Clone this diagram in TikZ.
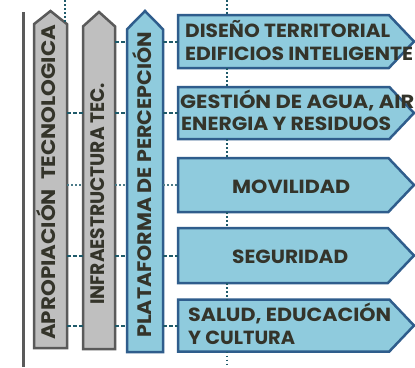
\documentclass[tikz,border=0pt]{standalone}
\usepackage{graphicx}
\usepackage{fontspec}
\setmainfont{Poppins}
\usetikzlibrary{shapes.arrows}
\definecolor{bluefill}{HTML}{8FCBDD}
\definecolor{blueline}{HTML}{2F5D8C}
\definecolor{grayfill}{HTML}{BFBFBF}
\definecolor{grayline}{HTML}{5A5A5A}
\definecolor{conn}{HTML}{1F5A6A}
\definecolor{txt}{HTML}{34342A}
\newcommand{\fitw}[2]{\resizebox{#1}{\height}{#2}}
\begin{document}
\begin{tikzpicture}[x=1pt,y=-1pt,
 pillar/.style={single arrow, single arrow head extend=0pt, rotate=90, inner sep=0pt, outer sep=0pt, minimum width=33pt, minimum height=337pt, anchor=tail, line width=2.5pt},
 graypillar/.style={pillar, draw=grayline, fill=grayfill},
 bluepillar/.style={pillar, draw=blueline, fill=bluefill},
 area/.style={single arrow, single arrow head extend=0pt, single arrow tip angle=93, inner sep=0pt, outer sep=0pt, minimum width=53pt, minimum height=236pt, anchor=tail, draw=blueline, fill=bluefill, line width=2.5pt},
 vlabel/.style={rotate=90, anchor=base west, text=txt, font=\bfseries\fontsize{19.5}{19.5}\selectfont, inner sep=0pt},
 hlabel/.style={anchor=base west, text=txt, font=\bfseries\fontsize{19}{19}\selectfont, inner sep=0pt},
 link/.style={draw=conn, line width=2pt, dash pattern=on 4pt off 2pt},
 dotlink/.style={draw=conn!80, line width=2pt, dash pattern=on 1.5pt off 2.5pt},
 vdot/.style={draw=conn, line width=2pt, dash pattern=on 1.5pt off 2.5pt}
]
\useasboundingbox (0,0) rectangle (415,367);
\clip (0,0) rectangle (415,367);
\fill[white] (0,0) rectangle (415,367);

% left rule
\coordinate (L1) at (23,12);
\coordinate (L2) at (23,367);
\draw[line width=3pt, draw=grayline] (L1) -- (L2);

% pillars
\node[graypillar, single arrow tip angle=103] (a1) at (50.5,348) {};
\node[graypillar, single arrow tip angle=96, minimum width=32pt] (a2) at (99,349) {};
\node[bluepillar, single arrow tip angle=89, minimum width=36pt, minimum height=341pt] (a3) at (145,352) {};

\node[vlabel] (t1) at (55.5,340) {\fitw{315pt}{APROPIACIÓN\ \ TECNOLOGICA}};
\node[vlabel] (t2) at (104,305) {\fitw{222pt}{INFRAESTRUCTURA TEC.}};
\node[vlabel] (t3) at (151.5,338) {\fitw{306pt}{PLATAFORMA DE PERCEPCIÓN}};

% areas
\node[area] (b1) at (178,41.5) {};
\node[area, minimum width=52pt] (b2) at (178,113) {};
\node[area, minimum width=54pt] (b3) at (178,185) {};
\node[area, minimum width=55pt] (b4) at (178,255.5) {};
\node[area, minimum width=52pt] (b5) at (178,325.5) {};

\node[hlabel] (l1a) at (185,37) {\fitw{205pt}{DISEÑO TERRITORIAL}};
\node[hlabel] (l1b) at (185,60.5) {\fitw{228pt}{EDIFICIOS INTELIGENTE}};
\node[hlabel] (l2a) at (180,108.7) {\fitw{234pt}{GESTIÓN DE AGUA, AIR}};
\node[hlabel] (l2b) at (181,130) {\fitw{210pt}{ENERGIA Y RESIDUOS}};
\node[hlabel] (l3) at (232,193) {\fitw{118pt}{MOVILIDAD}};
\node[hlabel] (l4) at (232,263) {\fitw{116pt}{SEGURIDAD}};
\node[hlabel] (l5a) at (188,321.3) {\fitw{203pt}{SALUD, EDUCACIÓN}};
\node[hlabel] (l5b) at (188,344.7) {\fitw{107pt}{Y CULTURA}};

% horizontal connectors
\draw[link] (a2.south |- b1.tail) -- (a3.north |- b1.tail);
\draw[link] (a3.south |- b1.tail) -- (b1.tail);

\draw[link] (a1.south |- b2.tail) -- (a2.north |- b2.tail);
\draw[link] (a2.south |- b2.tail) -- (a3.north |- b2.tail);
\draw[link] (a3.south |- b2.tail) -- (b2.tail);

\draw[dotlink] (a1.south |- b3.tail) -- (a2.north |- b3.tail);
\draw[dotlink] (a2.south |- b3.tail) -- (a3.north |- b3.tail);
\draw[dotlink] (a3.south |- b3.tail) -- (b3.tail);

\draw[link] (a1.south |- b4.tail) -- (a2.north |- b4.tail);
\draw[link] (a2.south |- b4.tail) -- (a3.north |- b4.tail);
\draw[link] (a3.south |- b4.tail) -- (b4.tail);

\draw[link] (a1.south |- b5.tail) -- (a2.north |- b5.tail);
\draw[link] (a2.south |- b5.tail) -- (a3.north |- b5.tail);
\draw[link] (a3.south |- b5.tail) -- (b5.tail);

% vertical dotted connectors
\coordinate (vt) at (227,0);
\coordinate (vb) at (227,367);
\draw[vdot] (vt) -- (b1.north -| vt);
\draw[vdot] (b1.south -| vt) -- (b2.north -| vt);
\draw[vdot] (b2.south -| vt) -- (b3.north -| vt);
\draw[vdot] (b3.south -| vt) -- (b4.north -| vt);
\draw[vdot] (b4.south -| vt) -- (b5.north -| vt);
\draw[vdot] (b5.south -| vt) -- (vb);

\coordinate (pt) at (65,0);
\coordinate (pb) at (65,22);
\draw[vdot] (pt) -- (pb);
\end{tikzpicture}
\end{document}
